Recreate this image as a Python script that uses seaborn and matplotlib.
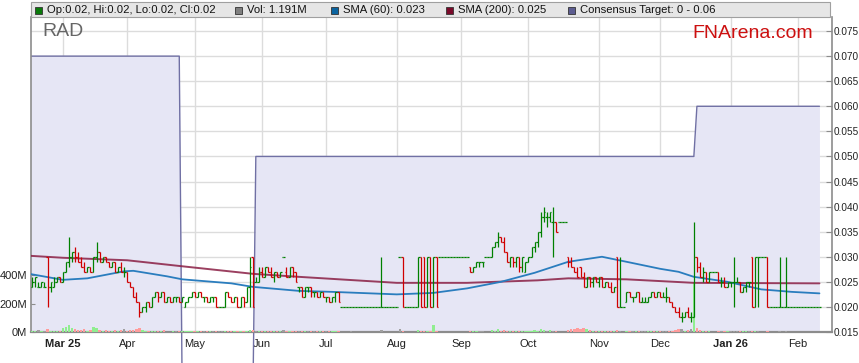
import numpy as np
import pandas as pd
import matplotlib
matplotlib.use("Agg")
import matplotlib.pyplot as plt
from matplotlib.patches import Rectangle
from matplotlib.transforms import Bbox, TransformedBbox
import seaborn as sns

sns.set_style("white")
plt.rcParams["font.family"] = ["Liberation Sans", "DejaVu Sans"]

# ---------------- data ----------------
bar_start, bar_end = "2025-02-17", "2026-02-11"   # one bar per weekday
# prices in thousandths of a dollar
open_m = [24,25,24,24,24,30,24,24,25,26,
          25,27,29,30,31,30,29,28,27,28, 27,30,31,29,30,29,28,29,27,28,
          27,27,25,24,22,21,19,20,21,20, 22,23,22,23,21,22,21,22,22,21,
          20,21,22,23,22,23,22,22,21,22, 22,20,20,20,23,22,21,22,20,22,
          21,24,30,25,25,27,26,28,27,26, 27,26,30,27,26,28,27,24,24,22,
          24,24,23,23,22,23,22,22,21,22, 23,20,20,20,20,20,20,20,20,20,
          20,20,20,20,20,20,20,20,20,20, 30,30,20,20,20,20,20,30,30,20,
          30,20,30,30,30,30,30,30,30,30, 30,30,30,28,27,28,29,29,30,30,
          30,32,33,34,33,31,29,30,29,30, 28,27,29,30,32,33,35,38,38,38,
          37,37,37,37,37,30,29,28,27,28, 26,24,26,25,26,25,26,24,25,24,
          23,30,20,20,21,23,22,22,23,21, 21,21,22,23,22,23,22,22,22,21,
          20,19,18,18,19,18,18,30,28,26, 27,25,27,27,27,25,25,24,25,25,
          25,25,23,24,25,30,20,30,30,30, 30,20,20,20,20,20,20,20,20,20,
          20,20,20,20,20,20,20,20]
high_m = [26,26,25,25,25,30,25,26,26,26,
          27,29,34,31,32,31,30,29,28,28, 30,33,31,30,30,29,29,29,28,29,
          28,27,25,24,23,21,20,21,21,22, 23,23,23,23,22,22,22,22,22,22,
          21,22,23,23,23,23,22,22,22,22, 22,20,20,23,23,22,22,22,22,22,
          24,30,30,26,28,28,28,28,28,27, 27,27,30,28,28,28,27,24,24,24,
          24,24,23,23,23,23,22,22,22,23, 23,20,20,20,20,20,20,20,20,20,
          20,20,20,20,30,20,20,20,20,20, 30,30,20,20,20,20,30,30,30,30,
          30,30,30,30,30,30,30,30,30,30, 30,30,30,28,28,29,29,29,30,30,
          32,33,35,34,34,31,30,30,30,30, 30,29,30,32,33,35,39,40,39,39,
          40,37,37,37,37,30,30,28,28,28, 27,26,26,26,26,26,26,25,25,25,
          24,30,30,20,23,23,22,23,23,22, 22,22,23,23,23,23,23,24,22,21,
          20,20,19,19,20,19,37,30,29,28, 27,27,27,27,27,26,26,25,25,30,
          26,25,24,25,25,30,30,30,30,30, 30,20,20,20,30,20,30,20,20,20,
          20,20,20,20,20,20,20,20]
low_m = [24,24,24,24,24,20,23,24,25,25,
         25,27,28,29,29,29,28,27,27,27, 27,29,29,29,29,28,28,27,27,27,
         26,25,24,22,21,18,19,19,20,20, 22,21,22,21,21,21,21,21,21,21,
         20,21,22,22,22,22,21,21,21,21, 20,20,20,20,22,21,21,20,20,20,
         21,20,20,25,25,26,26,27,26,25, 26,26,30,26,26,26,25,23,22,22,
         23,22,22,22,22,22,21,21,21,21, 21,20,20,20,20,20,20,20,20,20,
         20,20,20,20,20,20,20,20,20,20, 30,20,20,20,20,20,20,20,20,20,
         20,20,20,30,30,30,30,30,30,30, 30,30,30,27,27,28,28,28,30,30,
         30,32,32,33,31,29,28,28,28,27, 27,27,29,30,31,32,34,37,36,37,
         30,35,37,37,37,28,28,27,26,26, 24,24,24,24,25,24,24,24,24,23,
         23,20,20,20,21,22,21,22,21,21, 21,21,22,22,22,22,22,21,21,20,
         19,18,17,18,18,17,18,27,26,25, 25,25,27,27,25,24,24,24,24,20,
         25,23,23,23,24,20,20,20,30,30, 20,20,20,20,20,20,20,20,20,20,
         20,20,20,20,20,20,20,20]
close_m = [25,26,24,25,24,24,25,25,26,25,
           27,29,30,31,30,29,28,27,28,27, 30,31,29,30,29,28,29,27,28,27,
           27,25,24,22,21,19,20,21,20,22, 23,22,23,21,22,21,22,22,21,22,
           21,22,23,22,23,22,22,21,22,22, 20,20,20,23,22,21,22,20,22,21,
           24,28,20,25,27,26,28,27,26,27, 26,27,30,26,28,27,25,24,22,24,
           24,23,23,22,23,22,22,21,22,23, 21,20,20,20,20,20,20,20,20,20,
           20,20,20,20,20,20,20,20,20,20, 30,20,20,20,20,20,30,20,20,30,
           20,30,20,30,30,30,30,30,30,30, 30,30,30,27,28,29,29,29,30,30,
           32,33,34,33,31,29,30,29,30,28, 30,29,30,32,33,35,38,39,38,39,
           37,35,37,37,37,29,28,27,26,26, 24,26,25,26,25,26,24,25,24,23,
           24,20,20,20,23,22,22,23,21,21, 21,22,23,22,23,22,22,22,21,20,
           19,18,18,19,18,18,30,28,26,27, 25,27,27,27,25,25,24,25,25,25,
           25,23,24,25,25,20,30,30,30,30, 20,20,20,20,20,20,20,20,20,20,
           20,20,20,20,20,20,20,20]
# volume, millions of shares
volume_m = [10,6,12,8,9,18,7,10,6,9,
            25,35,48,30,18,14,12,20,9,12, 36,25,15,10,14,10,7,16,9,12,
            18,10,14,16,24,28,12,9,6,10, 7,10,6,12,0,0,7,10,6,7,
            10,6,6,10,7,6,4,7,4,7, 7,4,4,7,7,4,7,7,4,7,
            10,16,12,7,10,7,7,10,7,4, 7,4,12,7,7,4,7,4,7,10,
            7,4,7,4,4,7,4,7,10,7, 7,0,0,0,10,0,0,0,0,0,
            0,0,0,0,12,0,0,0,0,0, 22,10,0,0,0,0,12,7,10,7,
            10,46,7,0,0,0,0,0,0,0, 0,0,0,10,7,10,7,7,0,0,
            12,10,18,10,12,7,10,7,7,10, 7,10,7,10,12,10,18,16,10,12,
            10,10,0,0,0,14,18,22,28,18, 30,20,12,10,7,7,10,7,7,7,
            7,12,10,0,10,7,7,7,7,4, 4,7,7,4,7,4,4,10,7,10,
            14,18,24,10,14,20,350,26,12,10, 10,7,0,0,7,7,7,7,4,10,
            7,10,7,7,7,10,10,7,0,0, 10,0,0,0,7,0,7,0,0,0,
            0,0,0,0,0,0,0,1.191]

target_dates = ["2025-02-14", "2025-04-24", "2025-04-25", "2025-05-28",
                "2025-05-29", "2025-12-16", "2025-12-17", "2026-02-11"]
target_vals = [0.07, 0.07, 0.0, 0.0, 0.05, 0.05, 0.06, 0.06]

sma60_dates = ["2025-02-14", "2025-03-03", "2025-03-13", "2025-03-31", "2025-04-03",
               "2025-04-18", "2025-04-25", "2025-05-19", "2025-05-28", "2025-06-18",
               "2025-07-03", "2025-08-01", "2025-08-19", "2025-09-03", "2025-09-18",
               "2025-10-03", "2025-10-20", "2025-11-04", "2025-11-14", "2025-12-01",
               "2025-12-09", "2025-12-16", "2025-12-31", "2026-01-15", "2026-01-29",
               "2026-02-11"]
sma60_vals = [0.0266, 0.0254, 0.0257, 0.0271, 0.0272, 0.0261, 0.0255, 0.0247, 0.0240,
              0.0232, 0.0230, 0.0225, 0.0228, 0.0237, 0.0250, 0.0268, 0.0290, 0.0300,
              0.0290, 0.0276, 0.0270, 0.0260, 0.0250, 0.0235, 0.0230, 0.0227]
sma200_dates = ["2025-02-14", "2025-03-03", "2025-04-01", "2025-04-25", "2025-05-28",
                "2025-06-18", "2025-08-01", "2025-09-03", "2025-10-06", "2025-10-20",
                "2025-11-14", "2025-12-16", "2026-02-11"]
sma200_vals = [0.0302, 0.0298, 0.0293, 0.0281, 0.0266, 0.0260, 0.0248, 0.0248, 0.0253,
               0.0257, 0.0255, 0.0248, 0.0247]

month_labels = ["Mar 25", "Apr", "May", "Jun", "Jul", "Aug", "Sep", "Oct",
                "Nov", "Dec", "Jan 26", "Feb"]
price_ticks = [0.015, 0.020, 0.025, 0.030, 0.035, 0.040, 0.045, 0.050,
               0.055, 0.060, 0.065, 0.070, 0.075]
vol_ticks = [0, 200, 400]
vol_tick_labels = ["0M", "200M", "400M"]
legend_labels = ["Op:0.02, Hi:0.02, Lo:0.02, Cl:0.02", "Vol: 1.191M",
                 "SMA (60): 0.023", "SMA (200): 0.025", "Consensus Target: 0 - 0.06"]
ticker = "RAD"
brand = "FNArena.com"

# ---------------- positions (weekday index, Mar 3 2025 = 0) ----------------
cal = pd.bdate_range("2025-02-14", "2026-02-13")
pos = pd.Series(np.arange(len(cal)) - 11, index=cal)
bars = pd.bdate_range(bar_start, bar_end)
x = pos[bars].to_numpy().astype(float)
o = np.array(open_m) / 1000.0
h = np.array(high_m) / 1000.0
l = np.array(low_m) / 1000.0
c = np.array(close_m) / 1000.0
v = np.array(volume_m, dtype=float)

month_starts = [cal[(cal.year == y) & (cal.month == m)][0]
                for y, m in [(2025, mm) for mm in range(3, 13)] + [(2026, 1), (2026, 2)]]
month_pos = pos[month_starts].to_numpy()
mondays = cal[cal.dayofweek == 0]
monday_pos = pos[mondays].to_numpy()

# ---------------- figure ----------------
W, H = 859, 363
fig = plt.figure(figsize=(W / 100, H / 100), dpi=100)
L, R, B, T = 31 / W, 832 / W, 1 - 332 / H, 1 - 17 / H
ax = fig.add_axes([L, B, R - L, T - B])
ax.set_xlim(-10.4, 251.1)
ax.set_ylim(0.015, 0.0778)

# grid
ax.set_yticks(price_ticks)
ax.set_yticklabels([f"{t:.3f}" for t in price_ticks])
ax.set_xticks(month_pos)
ax.set_xticklabels(month_labels)
ax.set_xticks(monday_pos, minor=True)
ax.grid(True, which="major", color="#DCDCDC", lw=1.0)
ax.set_axisbelow(True)

# consensus target
tx = pos[pd.to_datetime(target_dates)].to_numpy()
ax.fill_between(tx, target_vals, 0.0, color="#E6E6F5", lw=0, zorder=1)
tline, = ax.plot(tx, target_vals, color="#7070A4", lw=1.0, zorder=2)
tline.set_clip_box(TransformedBbox(Bbox([[L, 0.0], [R, T]]), fig.transFigure))

# volume axis
axv = ax.twinx()
axv.set_ylim(0, 2226)
vcol = np.where(c > o, "#90EE90", np.where(c < o, "#FF9C9C", "#A0A0A0"))
axv.bar(x, v, width=0.75, color=vcol, lw=0)
axv.yaxis.tick_left()
axv.set_yticks(vol_ticks)
axv.set_yticklabels(vol_tick_labels)
ax.yaxis.tick_right()
for sp in axv.spines.values():
    sp.set_visible(False)

# price overlay axes
axp = fig.add_axes([L, B, R - L, T - B], sharex=ax, sharey=ax)
axp.patch.set_visible(False)
axp.axis("off")

s60x = pos[pd.to_datetime(sma60_dates)].to_numpy()
s200x = pos[pd.to_datetime(sma200_dates)].to_numpy()
sns.lineplot(x=s200x, y=sma200_vals, ax=axp, color="#8A1E44", lw=1.4, alpha=0.85)
sns.lineplot(x=s60x, y=sma60_vals, ax=axp, color="#2A7DBE", lw=1.3)

up = c >= o
bcol = np.where(up, "#008000", "#D00000")
axp.vlines(x, l, h, colors=bcol, lw=0.9)
axp.hlines(o, x - 0.5, x, colors=bcol, lw=0.9)
axp.hlines(c, x, x + 0.5, colors=bcol, lw=0.9)
axp.set_xlim(-10.4, 251.1)
axp.set_ylim(0.015, 0.0778)

# spines & ticks
ax.spines["top"].set_visible(False)
for k in ["left", "right", "bottom"]:
    ax.spines[k].set_color("#8C8C8C")
ax.spines["bottom"].set_linewidth(1.6)
ax.spines["left"].set_linewidth(1.2)
ax.spines["right"].set_linewidth(1.2)
ax.tick_params(axis="y", which="major", direction="in", length=4, pad=1,
               labelsize=7.2, colors="#8C8C8C", labelcolor="#222222")
axv.tick_params(axis="y", direction="in", length=3, pad=3, labelsize=8,
                colors="#8C8C8C", labelcolor="#222222")
ax.tick_params(axis="x", which="major", direction="out", length=3, pad=2,
               labelsize=8, colors="#8C8C8C", labelcolor="#222222")
ax.tick_params(axis="x", which="minor", direction="out", length=2, colors="#8C8C8C")
for lab in ax.get_xticklabels():
    if lab.get_text() in ("Mar 25", "Jan 26"):
        lab.set_fontweight("bold")

# legend bar
fig.patches.append(Rectangle((31 / W, 1 - 17 / H), (830 - 31) / W, 15 / H,
                             transform=fig.transFigure, facecolor="#E6E6E6",
                             edgecolor="#A0A0A0", lw=0.8, zorder=5))
leg_colors = ["#0A7A0A", "#7F7F7F", "#0B64A0", "#7A0A2A", "#5C5C90"]
leg_x = [47, 247, 343, 458, 580]
for lx, lc, lt in zip(leg_x, leg_colors, legend_labels):
    fig.patches.append(Rectangle(((lx - 12) / W, 1 - 13.5 / H), 7 / W, 7 / H,
                                 transform=fig.transFigure, facecolor=lc,
                                 edgecolor="#333333", lw=0.6, zorder=6))
    fig.text(lx / W, 1 - 10 / H, lt, fontsize=8.1, color="#111111",
             ha="left", va="center", zorder=7)

fig.text(42 / W, 1 - 32 / H, ticker, fontsize=14, color="#666666",
         ha="left", va="center")
fig.text(692 / W, 1 - 33 / H, brand, fontsize=14, color="#CC1010",
         ha="left", va="center")

fig.savefig("out.png", dpi=100)
